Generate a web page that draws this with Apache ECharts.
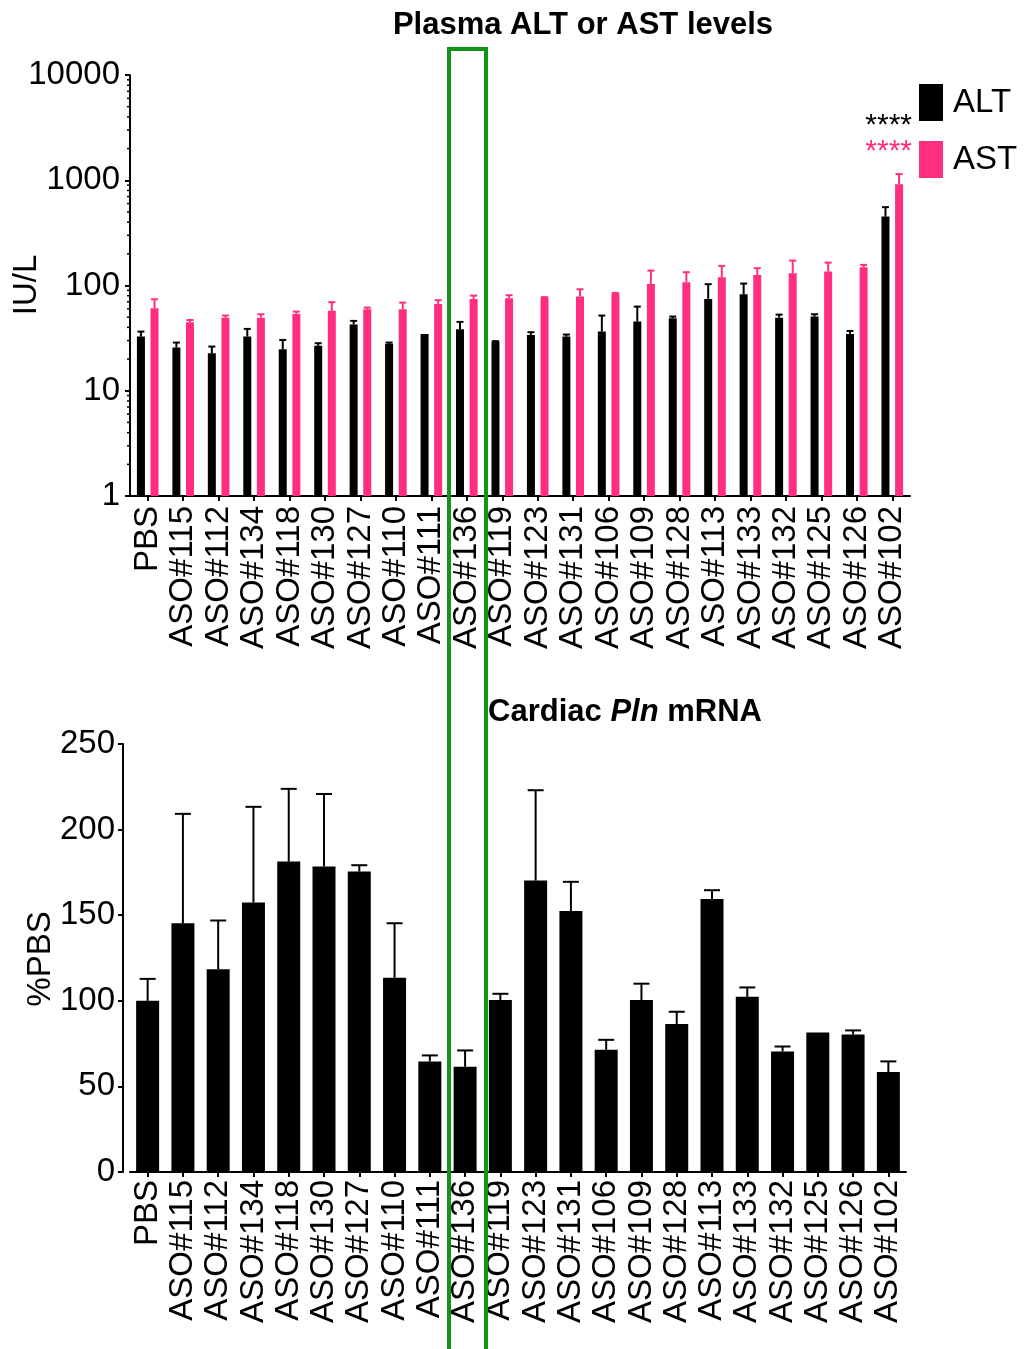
<!DOCTYPE html>
<html>
<head>
<meta charset="utf-8" />
<title>Plasma ALT/AST and cardiac Pln mRNA</title>
<script src="https://cdn.jsdelivr.net/npm/echarts@6/dist/echarts.min.js"></script>
<style>
html, body { margin: 0; padding: 0; background: #fff; }
#main { width: 1028px; height: 1349px; }
</style>
</head>
<body>
<div id="main"></div>
<script>
// groups, shared by both panels
var categories = ['PBS', 'ASO#115', 'ASO#112', 'ASO#134', 'ASO#118', 'ASO#130', 'ASO#127', 'ASO#110',
  'ASO#111', 'ASO#136', 'ASO#119', 'ASO#123', 'ASO#131', 'ASO#106', 'ASO#109', 'ASO#128',
  'ASO#113', 'ASO#133', 'ASO#132', 'ASO#125', 'ASO#126', 'ASO#102'];

// plasma ALT / AST (IU/L): mean and mean + SEM
var altMean  = [32.7, 25.7, 22.7, 32.7, 24.8, 26.7, 42.5, 27.9, 34.7, 38.4, 29.3, 33.9, 32.7, 36.5, 45.4, 48.9, 74.6, 82.7, 49.5, 50.7, 34.7, 452];
var altUpper = [36.5, 28.7, 26.3, 38.7, 30.4, 28.3, 46.1, 28.7, 34.7, 45.1, 29.6, 36.0, 34.2, 51.8, 63.0, 50.7, 102.9, 104.3, 52.9, 53.3, 37.0, 555];
var astMean  = [60.8, 44.8, 49.5, 49.5, 53.7, 57.4, 59.6, 59.6, 66.8, 74.6, 75.7, 76.8, 78.5, 83.8, 103.6, 107.5, 120, 126, 131, 135.6, 149, 918];
var astUpper = [74.0, 47.0, 51.8, 53.3, 56.5, 69.4, 61.7, 68.8, 72.5, 80.2, 80.9, 77.5, 92.0, 85.0, 138.6, 133.7, 153.6, 146, 172.6, 165, 157, 1143];

// cardiac Pln mRNA (%PBS): mean and mean + SEM
var plnMean  = [100, 145.3, 118.5, 157.4, 181.3, 178.4, 175.5, 113.4, 64.6, 61.5, 100.4, 170.2, 152.4, 71.4, 100.4, 86.4, 159.4, 102.3, 70.4, 81.5, 80.3, 58.4];
var plnUpper = [112.8, 209.2, 146.9, 213.3, 223.8, 220.8, 179.2, 145.3, 68.1, 71.0, 104.1, 223, 169.5, 77.2, 110, 93.6, 164.6, 107.8, 73.3, 81.5, 82.7, 64.6];

// log axis minor ticks
var logMinorTicks = [2, 3, 4, 5, 6, 7, 8, 9, 20, 30, 40, 50, 60, 70, 80, 90,
  200, 300, 400, 500, 600, 700, 800, 900, 2000, 3000, 4000, 5000, 6000, 7000, 8000, 9000];

var FONT = '"Liberation Sans", Arial, Helvetica, sans-serif';
var PINK = '#ff2e7e';
var GREEN = '#12961a';
var barW = 8;        // top panel bar width
var pairShift = 6.8; // half distance between ALT and AST bar centres

function errRows(mean, upper) {
  return mean.map(function (m, i) { return [i, m, upper[i]]; });
}

function errorBars(shift, capHalf, color, width) {
  return function (params, api) {
    var i = api.value(0), m = api.value(1), up = api.value(2);
    if (!(up > m)) return;
    var p0 = api.coord([i, m]);
    var p1 = api.coord([i, up]);
    var x = p0[0] + shift;
    var st = { stroke: color, lineWidth: width };
    return {
      type: 'group',
      children: [
        { type: 'line', shape: { x1: x, y1: p0[1], x2: x, y2: p1[1] }, style: st },
        { type: 'line', shape: { x1: x - capHalf, y1: p1[1], x2: x + capHalf, y2: p1[1] }, style: st }
      ]
    };
  };
}

var chart = echarts.init(document.getElementById('main'));

var axisLine = { show: true, lineStyle: { color: '#000', width: 2 } };
var axisTick = { show: true, length: 5, lineStyle: { color: '#000', width: 2 } };

var option = {
  backgroundColor: '#fff',
  animation: false,
  textStyle: { fontFamily: FONT },
  legend: {
    orient: 'vertical',
    left: 914, top: 79,
    itemWidth: 24, itemHeight: 37, itemGap: 20,
    icon: 'rect',
    selectedMode: false,
    data: ['ALT', 'AST'],
    textStyle: { fontSize: 33, color: '#000', fontFamily: FONT, padding: [0, 0, 0, 5] }
  },
  grid: [
    { left: 130, top: 75, width: 780, height: 421, outerBoundsMode: 'none' },
    { left: 130, top: 744, width: 776, height: 428, outerBoundsMode: 'none' }
  ],
  xAxis: [
    {
      type: 'category', gridIndex: 0, data: categories,
      axisLine: axisLine,
      axisTick: { show: true, alignWithLabel: true, length: 5, lineStyle: { color: '#000', width: 2 } },
      axisLabel: { rotate: 90, interval: 0, fontSize: 33, color: '#000', margin: 10, fontFamily: FONT }
    },
    {
      type: 'category', gridIndex: 1, data: categories,
      axisLine: axisLine,
      axisTick: { show: true, alignWithLabel: true, length: 5, lineStyle: { color: '#000', width: 2 } },
      axisLabel: { rotate: 90, interval: 0, fontSize: 33, color: '#000', margin: 8, fontFamily: FONT }
    }
  ],
  yAxis: [
    {
      type: 'log', logBase: 10, gridIndex: 0, min: 1, max: 10000,
      axisLine: axisLine, axisTick: axisTick,
      splitLine: { show: false },
      axisLabel: { fontSize: 33, color: '#000', margin: 10, fontFamily: FONT,
        formatter: function (v) { return String(v); } }
    },
    {
      type: 'value', gridIndex: 1, min: 0, max: 250, interval: 50, offset: 7,
      axisLine: axisLine, axisTick: axisTick,
      splitLine: { show: false },
      axisLabel: { fontSize: 33, color: '#000', margin: 8, fontFamily: FONT }
    }
  ],
  series: [
    {
      name: 'ALT', type: 'bar', xAxisIndex: 0, yAxisIndex: 0,
      data: altMean, barWidth: barW, barGap: '70%',
      itemStyle: { color: '#000' }
    },
    {
      name: 'AST', type: 'bar', xAxisIndex: 0, yAxisIndex: 0,
      data: astMean, barWidth: barW, barGap: '70%',
      itemStyle: { color: PINK }
    },
    {
      name: 'ALT err', type: 'custom', xAxisIndex: 0, yAxisIndex: 0,
      data: errRows(altMean, altUpper), encode: { x: 0, y: [1, 2] },
      renderItem: errorBars(-pairShift, 3.5, '#000', 2), z: 5
    },
    {
      name: 'AST err', type: 'custom', xAxisIndex: 0, yAxisIndex: 0,
      data: errRows(astMean, astUpper), encode: { x: 0, y: [1, 2] },
      renderItem: errorBars(pairShift, 3.5, PINK, 2), z: 5
    },
    {
      name: 'minor ticks', type: 'custom', xAxisIndex: 0, yAxisIndex: 0,
      data: logMinorTicks.map(function (v) { return [0, v]; }),
      encode: { x: 0, y: 1 },
      renderItem: function (params, api) {
        var p = api.coord([0, api.value(1)]);
        var x = params.coordSys.x;
        return { type: 'line', shape: { x1: x - 3, y1: p[1], x2: x, y2: p[1] },
          style: { stroke: '#000', lineWidth: 1.5 } };
      }
    },
    {
      name: 'Pln', type: 'bar', xAxisIndex: 1, yAxisIndex: 1,
      data: plnMean, barWidth: 23,
      itemStyle: { color: '#000' }
    },
    {
      name: 'Pln err', type: 'custom', xAxisIndex: 1, yAxisIndex: 1,
      data: errRows(plnMean, plnUpper), encode: { x: 0, y: [1, 2] },
      renderItem: errorBars(0, 8, '#000', 2), z: 5
    }
  ],
  graphic: [
    { type: 'text', z: 10, x: 583, y: 25,
      style: { text: 'Plasma ALT or AST levels', textAlign: 'center', textVerticalAlign: 'middle',
        font: 'bold 31px ' + FONT, fill: '#000' } },
    { type: 'text', z: 10, x: 625, y: 712,
      style: { text: '{b|Cardiac }{i|Pln}{b| mRNA}', textAlign: 'center', textVerticalAlign: 'middle',
        rich: {
          b: { fontSize: 31, fontWeight: 'bold', fontFamily: FONT, fill: '#000' },
          i: { fontSize: 31, fontWeight: 'bold', fontStyle: 'italic', fontFamily: FONT, fill: '#000' }
        } } },
    // axis names
    { type: 'text', z: 10, x: 27, y: 285, rotation: Math.PI / 2,
      style: { text: 'IU/L', textAlign: 'center', textVerticalAlign: 'middle', font: '33px ' + FONT, fill: '#000' } },
    { type: 'text', z: 10, x: 41, y: 959, rotation: Math.PI / 2,
      style: { text: '%PBS', textAlign: 'center', textVerticalAlign: 'middle', font: '33px ' + FONT, fill: '#000' } },
    // significance marks
    { type: 'text', z: 10, x: 912, y: 126,
      style: { text: '****', textAlign: 'right', textVerticalAlign: 'middle', font: '30px ' + FONT, fill: '#000' } },
    { type: 'text', z: 10, x: 912, y: 152,
      style: { text: '****', textAlign: 'right', textVerticalAlign: 'middle', font: '30px ' + FONT, fill: PINK } },
    { type: 'rect', z: 20, shape: { x: 449, y: 49, width: 37, height: 1400 },
      style: { fill: 'none', stroke: GREEN, lineWidth: 4 } }
  ]
};

chart.setOption(option);
</script>
</body>
</html>
